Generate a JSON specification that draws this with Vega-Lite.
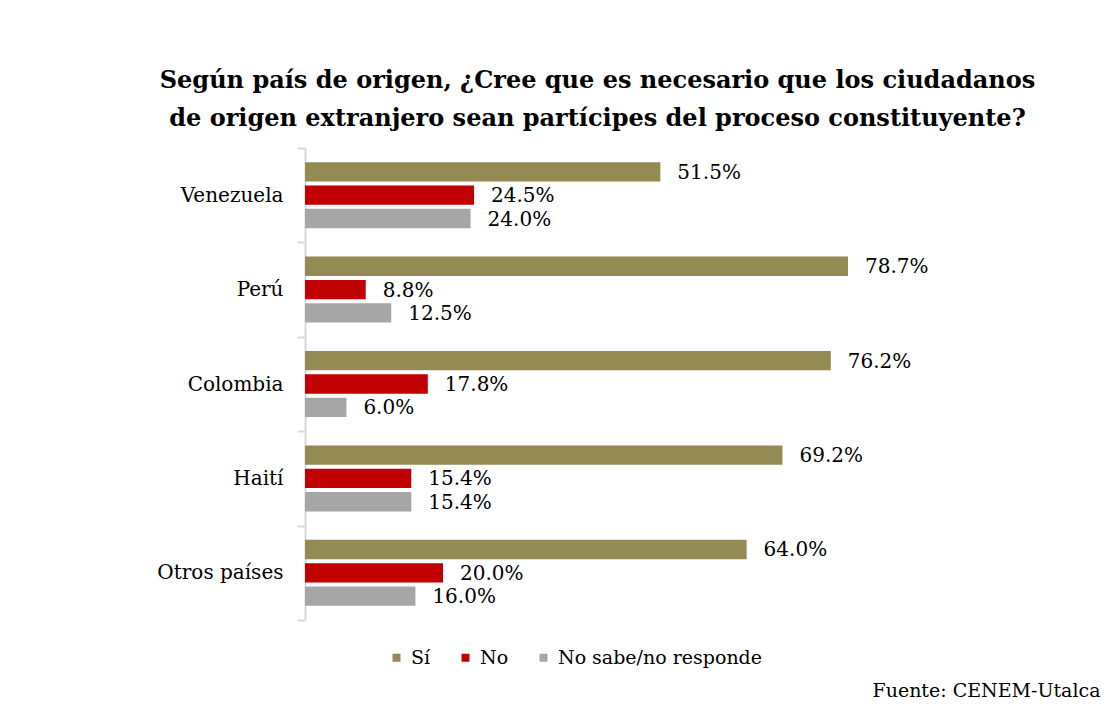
{
  "$schema": "https://vega.github.io/schema/vega-lite/v6.json",
  "width": 621,
  "height": 472,
  "autosize": {"type": "none"},
  "padding": {"left": 305, "top": 148, "right": 182, "bottom": 84},
  "background": "white",
  "title": {
    "text": ["Según país de origen, ¿Cree que es necesario que los ciudadanos", "de origen extranjero sean partícipes del proceso constituyente?"],
    "font": "DejaVu Serif",
    "fontSize": 24,
    "fontWeight": "bold",
    "color": "#000000",
    "anchor": "middle",
    "dx": -18,
    "offset": 7,
    "lineHeight": 38
  },
  "data": {
    "values": [
      {"pais": "Venezuela", "respuesta": "Sí", "valor": 0.515},
      {"pais": "Venezuela", "respuesta": "No", "valor": 0.245},
      {"pais": "Venezuela", "respuesta": "No sabe/no responde", "valor": 0.24},
      {"pais": "Perú", "respuesta": "Sí", "valor": 0.787},
      {"pais": "Perú", "respuesta": "No", "valor": 0.088},
      {"pais": "Perú", "respuesta": "No sabe/no responde", "valor": 0.125},
      {"pais": "Colombia", "respuesta": "Sí", "valor": 0.762},
      {"pais": "Colombia", "respuesta": "No", "valor": 0.178},
      {"pais": "Colombia", "respuesta": "No sabe/no responde", "valor": 0.06},
      {"pais": "Haití", "respuesta": "Sí", "valor": 0.692},
      {"pais": "Haití", "respuesta": "No", "valor": 0.154},
      {"pais": "Haití", "respuesta": "No sabe/no responde", "valor": 0.154},
      {"pais": "Otros países", "respuesta": "Sí", "valor": 0.64},
      {"pais": "Otros países", "respuesta": "No", "valor": 0.2},
      {"pais": "Otros países", "respuesta": "No sabe/no responde", "valor": 0.16}
    ]
  },
  "encoding": {
    "y": {
      "field": "pais",
      "type": "nominal",
      "sort": ["Venezuela", "Perú", "Colombia", "Haití", "Otros países"],
      "scale": {"paddingInner": 0, "paddingOuter": 0},
      "axis": {
        "title": null,
        "domainColor": "#D9D9D9",
        "domainWidth": 2,
        "tickColor": "#D9D9D9",
        "tickWidth": 2,
        "tickSize": 8,
        "tickBand": "extent",
        "labelPadding": 14,
        "labelFont": "DejaVu Serif",
        "labelFontSize": 20,
        "labelColor": "#000000"
      }
    },
    "yOffset": {
      "field": "respuesta",
      "type": "nominal",
      "sort": ["Sí", "No", "No sabe/no responde"],
      "scale": {"paddingInner": 0.17, "paddingOuter": 0.61}
    },
    "x": {
      "field": "valor",
      "type": "quantitative",
      "scale": {"domain": [0, 0.9]},
      "axis": {
        "orient": "bottom",
        "domain": false,
        "ticks": false,
        "labels": false,
        "grid": false,
        "title": "Fuente: CENEM-Utalca",
        "titleFont": "DejaVu Serif",
        "titleFontSize": 19,
        "titleFontWeight": "normal",
        "titleColor": "#000000",
        "titleAnchor": "end",
        "titleAlign": "right",
        "titleX": 795,
        "titleY": 76,
        "titleBaseline": "alphabetic"
      }
    }
  },
  "layer": [
    {
      "mark": {"type": "bar"},
      "encoding": {
        "color": {
          "field": "respuesta",
          "type": "nominal",
          "sort": ["Sí", "No", "No sabe/no responde"],
          "scale": {
            "domain": ["Sí", "No", "No sabe/no responde"],
            "range": ["#948A54", "#C00000", "#A6A6A6"]
          },
          "legend": {
            "title": null,
            "orient": "none",
            "direction": "horizontal",
            "legendX": 82,
            "legendY": 500,
            "symbolType": "square",
            "symbolSize": 64,
            "symbolStrokeWidth": 0,
            "labelFont": "DejaVu Serif",
            "labelFontSize": 19,
            "labelColor": "#000000",
            "labelLimit": 0,
            "columnPadding": 25,
            "labelOffset": 5
          }
        }
      }
    },
    {
      "mark": {
        "type": "text",
        "align": "left",
        "baseline": "middle",
        "dx": 17,
        "dy": 1,
        "font": "DejaVu Serif",
        "fontSize": 20,
        "color": "#000000"
      },
      "encoding": {
        "text": {"field": "valor", "type": "quantitative", "format": ".1%"}
      }
    }
  ],
  "config": {
    "view": {"stroke": null}
  }
}
